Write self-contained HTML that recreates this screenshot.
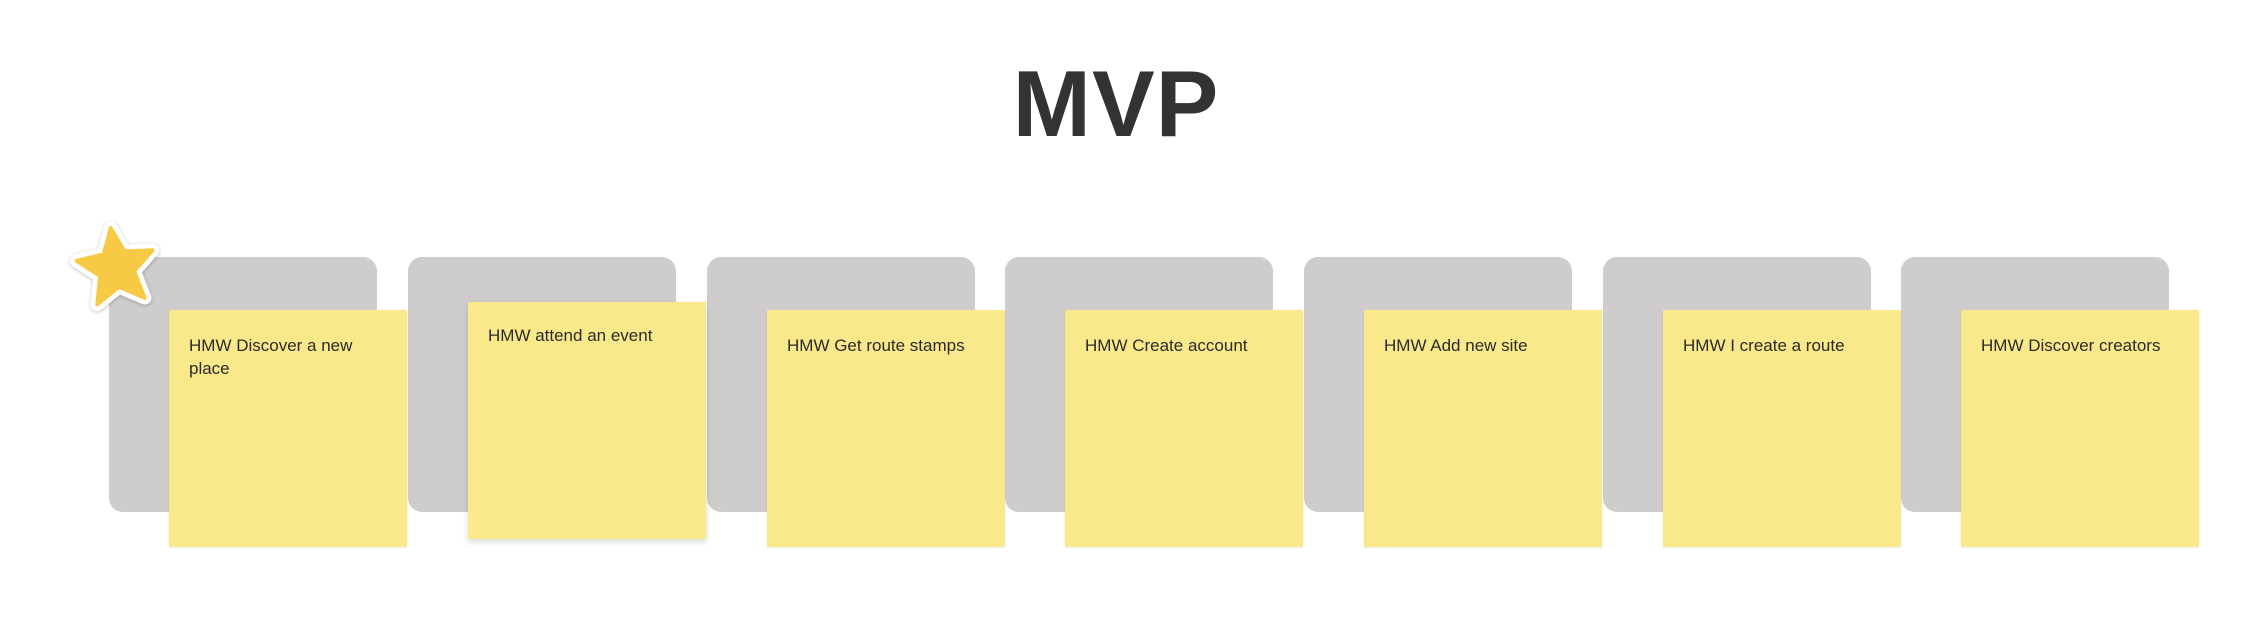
<!DOCTYPE html>
<html><head><style>
body{margin:0;width:2248px;height:630px;background:#fff;position:relative;overflow:hidden;font-family:"Liberation Sans",sans-serif}
.g{position:absolute;top:257px;width:268px;height:255px;background:#cecccd;border-radius:14px}
.y{position:absolute;top:310px;width:238px;height:237px;background:#fae98a;box-sizing:border-box;padding:24px 20px;font-size:17px;line-height:23px;color:#2a2a2a;box-shadow:0 1px 2px rgba(0,0,0,0.08)}
h1{position:absolute;top:50px;left:0;width:2232px;text-align:center;margin:0;font-size:94px;font-weight:bold;color:#333;letter-spacing:1px}
</style></head><body>
<h1>MVP</h1>
<div class="g" style="left:109px"></div>
<div class="g" style="left:408px"></div>
<div class="g" style="left:707px"></div>
<div class="g" style="left:1005px"></div>
<div class="g" style="left:1304px"></div>
<div class="g" style="left:1603px"></div>
<div class="g" style="left:1901px"></div>
<div class="y" style="left:169px">HMW Discover a new place</div>
<div class="y" style="left:468px;top:302px;padding-top:22px;box-shadow:0 3px 6px rgba(0,0,0,0.15)">HMW attend an event</div>
<div class="y" style="left:767px">HMW Get route stamps</div>
<div class="y" style="left:1065px">HMW Create account</div>
<div class="y" style="left:1364px">HMW Add new site</div>
<div class="y" style="left:1663px">HMW I create a route</div>
<div class="y" style="left:1961px">HMW Discover creators</div>
<svg style="position:absolute;left:68px;top:218px;transform:rotate(-8deg)" width="96" height="96" viewBox="0 0 100 100">
<polygon points="50,10 61,36 90,39 68,58 75,87 50,72 25,87 32,58 10,39 39,36" fill="#f6ca45" stroke="#fff" stroke-width="14" stroke-linejoin="round" style="filter:drop-shadow(0 1px 2px rgba(0,0,0,0.25))"/>
<polygon points="50,10 61,36 90,39 68,58 75,87 50,72 25,87 32,58 10,39 39,36" fill="#f6ca45" stroke="#f6ca45" stroke-width="4" stroke-linejoin="round"/>
</svg>
</body></html>
